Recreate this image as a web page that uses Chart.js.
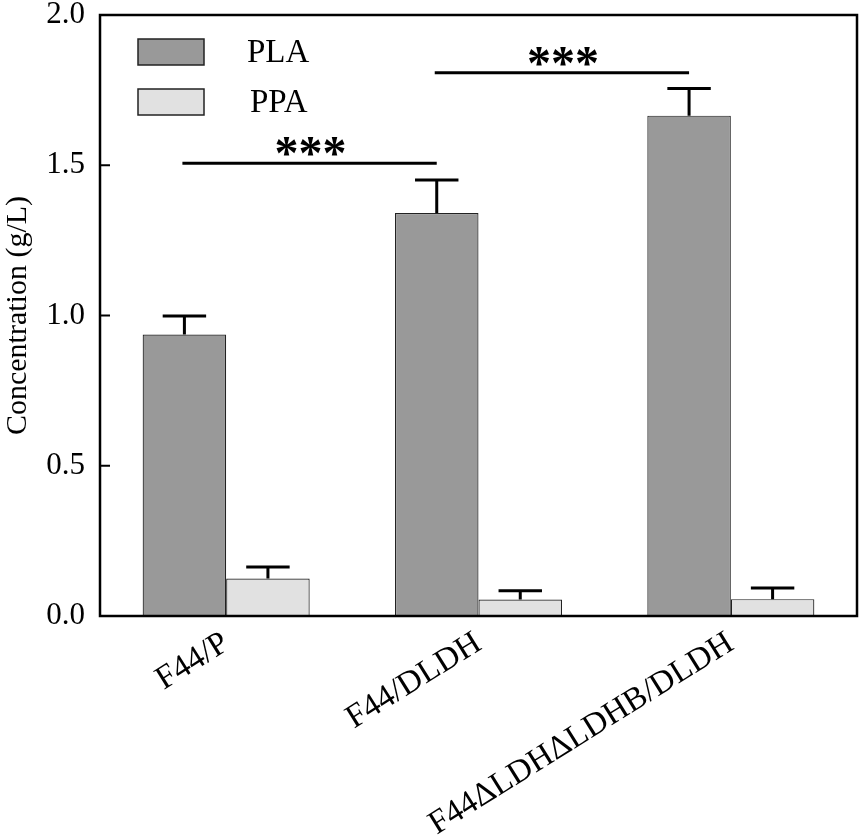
<!DOCTYPE html>
<html lang="en">
<head>
  <meta charset="UTF-8" />
  <title>PLA / PPA concentration</title>
  <script src="https://cdn.jsdelivr.net/npm/chart.js"></script>
  <style>
    body { margin: 0; background: #fff; }
  </style>
</head>
<body>
  <canvas id="grafico" width="862" height="840"></canvas>
<script>
  // categorias e valores
  var cepas = ["F44/P", "F44/DLDH", "F44\u0394LDH\u0394LDHB/DLDH"];
  var pla = [0.937, 1.341, 1.665];
  var pla_erro = [0.061, 0.110, 0.090];
  var ppa = [0.125, 0.055, 0.056];
  var ppa_erro = [0.038, 0.029, 0.037];
  var ticks_y = [0, 0.5, 1.0, 1.5, 2.0];

  // barras de significancia entre as barras de PLA
  var sig_de = [0, 1];
  var sig_ate = [1, 2];
  var sig_altura = [1.507, 1.808];
  var sig_texto = ["***", "***"];

  var serif = "'Liberation Serif', 'Times New Roman', serif";

  // barras de erro (so para cima)
  const plugin_erro = {
    id: "erro",
    afterDatasetsDraw(chart) {
      const ctx = chart.ctx;
      const y = chart.scales.y;
      chart.data.datasets.forEach((ds, i) => {
        const meta = chart.getDatasetMeta(i);
        meta.data.forEach((bar, j) => {
          const topo = y.getPixelForValue(ds.data[j] + ds.erro[j]);
          const cap = bar.width * 0.26;
          ctx.save();
          ctx.strokeStyle = "#000";
          ctx.lineWidth = 3;
          ctx.beginPath();
          ctx.moveTo(bar.x, bar.y);
          ctx.lineTo(bar.x, topo);
          ctx.moveTo(bar.x - cap, topo);
          ctx.lineTo(bar.x + cap, topo);
          ctx.stroke();
          ctx.restore();
        });
      });
    },
  };

  // moldura, ticks internos, legenda e asteriscos
  const plugin_extra = {
    id: "extra",
    afterDraw(chart) {
      const ctx = chart.ctx;
      const a = chart.chartArea;
      const y = chart.scales.y;
      ctx.save();

      ctx.strokeStyle = "#000";
      ctx.lineWidth = 2.5;
      ctx.strokeRect(a.left, a.top, a.right - a.left, a.bottom - a.top);

      ctx.lineWidth = 2;
      ticks_y.forEach(v => {
        const py = y.getPixelForValue(v);
        ctx.beginPath();
        ctx.moveTo(a.left, py);
        ctx.lineTo(a.left + 10, py);
        ctx.stroke();
      });

      // legenda dentro da area
      chart.data.datasets.forEach((ds, i) => {
        const bx = a.left + 38;
        const by = a.top + 24 + i * 50;
        ctx.fillStyle = ds.backgroundColor;
        ctx.fillRect(bx, by, 66, 26);
        ctx.strokeStyle = "#222";
        ctx.lineWidth = 1.5;
        ctx.strokeRect(bx, by, 66, 26);
        ctx.fillStyle = "#000";
        ctx.font = "33px " + serif;
        ctx.textAlign = "left";
        ctx.textBaseline = "middle";
        ctx.fillText(ds.label, bx + 109 + i * 3, by + 14);
      });

      // significancia
      const meta = chart.getDatasetMeta(0);
      sig_de.forEach((de, k) => {
        const x1 = meta.data[de].x;
        const x2 = meta.data[sig_ate[k]].x;
        const py = y.getPixelForValue(sig_altura[k]);
        ctx.strokeStyle = "#000";
        ctx.lineWidth = 3;
        ctx.beginPath();
        ctx.moveTo(x1 - 2, py);
        ctx.lineTo(x2, py);
        ctx.stroke();
        ctx.fillStyle = "#000";
        ctx.font = "bold 48px " + serif;
        ctx.textAlign = "center";
        ctx.textBaseline = "alphabetic";
        ctx.fillText(sig_texto[k], (x1 + x2) / 2, py + 6);
      });

      ctx.restore();
    },
  };

  new Chart(document.getElementById("grafico"), {
    type: "bar",
    data: {
      labels: cepas,
      datasets: [
        {
          label: "PLA",
          data: pla,
          erro: pla_erro,
          backgroundColor: "#999999",
          borderColor: "#222",
          borderWidth: 1.2,
        },
        {
          label: "PPA",
          data: ppa,
          erro: ppa_erro,
          backgroundColor: "#e1e1e1",
          borderColor: "#222",
          borderWidth: 1.2,
        },
      ],
    },
    options: {
      responsive: false,
      animation: false,
      events: [],
      layout: { padding: { top: 15, right: 5, left: 0, bottom: 0 } },
      datasets: {
        bar: { categoryPercentage: 0.662, barPercentage: 1.0 },
      },
      plugins: {
        legend: { display: false },
        tooltip: { enabled: false },
      },
      scales: {
        x: {
          grid: { display: false, drawTicks: false },
          border: { display: false },
          ticks: {
            color: "#000",
            font: { family: serif, size: 33 },
            minRotation: 32,
            maxRotation: 32,
            padding: 8,
          },
          afterFit(scale) { scale.height = 224; },
        },
        y: {
          min: 0,
          max: 2,
          grid: { display: false, drawTicks: false },
          border: { display: false },
          afterBuildTicks(scale) {
            scale.ticks = ticks_y.map(v => ({ value: v }));
          },
          ticks: {
            color: "#000",
            font: { family: serif, size: 31 },
            padding: 15,
            callback: v => Number(v).toFixed(1),
          },
          title: {
            display: true,
            text: "Concentration (g/L)",
            color: "#000",
            font: { family: serif, size: 30 },
            padding: { top: 0, bottom: 0 },
          },
          afterFit(scale) {
            scale.width = 100;
            scale.paddingTop = 0;
            scale.paddingBottom = 0;
          },
        },
      },
    },
    plugins: [plugin_erro, plugin_extra],
  });
</script>
</body>
</html>
